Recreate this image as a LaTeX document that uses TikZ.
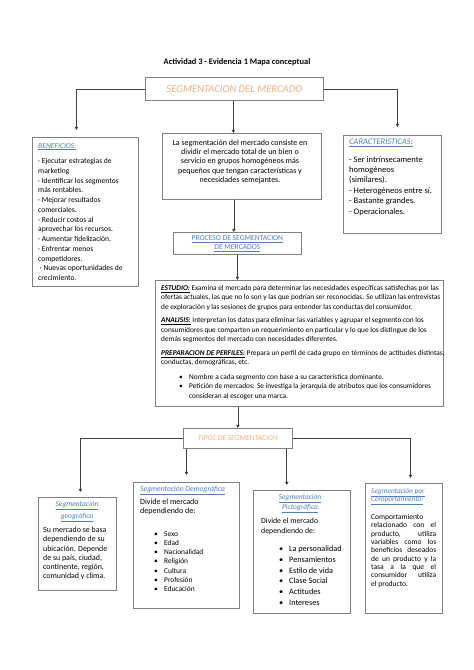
\documentclass[tikz,border=0pt]{standalone}
\usepackage{fontspec}
\setmainfont{Carlito}
\usetikzlibrary{arrows.meta,calc}
\definecolor{peach}{HTML}{F4B183}
\definecolor{hblue}{HTML}{4F81BD}
\definecolor{boxgray}{HTML}{7F7F7F}
\definecolor{linegray}{HTML}{404040}
\newcommand{\hd}[1]{\textcolor{hblue}{\itshape\underline{#1}}}
\newcommand{\bh}[1]{\textbf{\itshape\underline{#1}}}
\newcommand{\bul}{\makebox[10pt][l]{•}}
\newcommand{\jl}[1]{\makebox[65pt][s]{#1}}
\begin{document}
\begin{tikzpicture}[x=1pt,y=-1pt,
  box/.style={draw=boxgray, line width=0.8pt, fill=white, inner sep=0pt, anchor=north west},
  txt/.style={inner sep=0pt, anchor=north west, align=left},
  arr/.style={draw=linegray, line width=0.8pt, -{Triangle[length=3.2pt,width=3.4pt]}},
  ln/.style={draw=linegray, line width=0.8pt}]
\useasboundingbox (0,0) rectangle (474,670);
\fill[white] (0,0) rectangle (474,670);

% title
\node[font=\bfseries\fontsize{8.4}{10}\selectfont] (title) at (237,62) {Actividad 3 - Evidencia 1 Mapa conceptual};

% main
\node[box, minimum width=178pt, minimum height=23pt, font=\itshape\fontsize{10.6}{12}\selectfont, text=peach] (main) at (145,77) {SEGMENTACION DEL MERCADO};

% beneficios
\node[box, minimum width=106pt, minimum height=149pt] (ben) at (32,137) {};
\node[txt, font=\fontsize{7.6}{9.75}\selectfont] (bent) at (38,143) {\hd{BENEFICIOS:}\\[5.8pt]
· Ejecutar estrategias de\\ marketing\\ · Identificar los segmentos\\ más rentables.\\ · Mejorar resultados\\ comerciales.\\ · Reducir costos al\\ aprovechar los recursos.\\ · Aumentar fidelización.\\ · Enfrentar menos\\ competidores.\\ \ · Nuevas oportunidades de\\ crecimiento.};

% definicion
\node[box, minimum width=159pt, minimum height=66pt] (def) at (162,133) {};
\node[inner sep=0pt, anchor=north, align=center, font=\fontsize{8}{9.1}\selectfont] (deft) at (240,140) {La segmentación del mercado consiste en\\ dividir el mercado total de un bien o\\ servicio en grupos homogéneos más\\ pequeños que tengan características y\\ necesidades semejantes.};

% caracteristicas
\node[box, minimum width=98pt, minimum height=98pt] (car) at (343,135) {};
\node[txt, font=\fontsize{8.5}{10.4}\selectfont] (cart) at (349,139) {\hd{CARACTERISTICAS:}\\[7pt]
- Ser intrínsecamente\\ homogéneos\\ (similares).\\ - Heterogéneos entre sí.\\ - Bastante grandes.\\ - Operacionales.};

% proceso
\node[box, minimum width=128pt, minimum height=22pt, align=center, font=\fontsize{7.6}{9}\selectfont, text=hblue] (proc) at (173,232) {\underline{PROCESO DE SEGMENTACION}\\ \underline{DE MERCADOS}};

% big box
\node[box, minimum width=288pt, minimum height=126pt] (big) at (155,280) {};
\node[txt, font=\fontsize{7.33}{9.5}\selectfont] (bigt) at (161,285) {\bh{ESTUDIO:} Examina el mercado para determinar las necesidades específicas satisfechas por las\\
ofertas actuales, las que no lo son y las que podrían ser reconocidas. Se utilizan las entrevistas\\
de exploración y las sesiones de grupos para entender las conductas del consumidor.\\[4pt]
\bh{ANALISIS:} Interpretan los datos para eliminar las variables y agrupar el segmento con los\\
consumidores que comparten un requerimiento en particular y lo que los distingue de los\\
demás segmentos del mercado con necesidades diferentes.\\[4pt]
\bh{PREPARACION DE PERFILES:} Prepara un perfil de cada grupo en términos de actitudes distintas,\\
conductas, demográficas, etc.\\[5pt]
\hspace*{18pt}\bul Nombre a cada segmento con base a su característica dominante.\\
\hspace*{18pt}\bul Petición de mercados: Se investiga la jerarquía de atributos que los consumidores\\
\hspace*{28pt}consideran al escoger una marca.};

% tipos
\node[box, minimum width=109pt, minimum height=20pt, font=\itshape\fontsize{7.6}{9}\selectfont, text=peach] (tipos) at (183,428) {TIPOS DE SEGMENTACION};

% geografica
\node[box, minimum width=78pt, minimum height=93pt] (geo) at (38,497) {};
\node[inner sep=0pt, anchor=north, align=center, font=\fontsize{7.5}{11.7}\selectfont] (geoh) at (77,501) {\hd{Segmentación}\\ \hd{geográfica}};
\node[txt, font=\fontsize{7.9}{9.2}\selectfont] (geot) at (43,527) {Su mercado se basa\\ dependiendo de su\\ ubicación. Depende\\ de su país, ciudad,\\ continente, región,\\ comunidad y clima.};

% demografica
\node[box, minimum width=106pt, minimum height=126pt] (dem) at (133,482) {};
\node[txt, font=\fontsize{7.6}{9}\selectfont] (demh) at (140,486) {\hd{Segmentación Demográfica}};
\node[txt, font=\fontsize{8}{9.2}\selectfont] (demt) at (140,499) {Divide el mercado\\ dependiendo de:};
\node[txt, font=\fontsize{7.4}{9.3}\selectfont] (demb) at (154,531) {\bul Sexo\\ \bul Edad\\ \bul Nacionalidad\\ \bul Religión\\ \bul Cultura\\ \bul Profesión\\ \bul Educación};

% pictografica
\node[box, minimum width=97pt, minimum height=123pt] (pic) at (253,490) {};
\node[inner sep=0pt, anchor=north, align=center, font=\fontsize{7.4}{10}\selectfont] (pich) at (300,494) {\hd{Segmentación}\\ \hd{Pictográfica}};
\node[txt, font=\fontsize{7.8}{9.4}\selectfont] (pict) at (261,518) {Divide el mercado\\ dependiendo de:};
\node[txt, font=\fontsize{8.2}{10.65}\selectfont] (picb) at (279,546) {\bul La personalidad\\ \bul Pensamientos\\ \bul Estilo de vida\\ \bul Clase Social\\ \bul Actitudes\\ \bul Intereses};

% comportamiento
\node[box, minimum width=77pt, minimum height=130pt] (com) at (365,483) {};
\node[txt, font=\fontsize{7.3}{8.4}\selectfont] (comh) at (371,488) {\hd{Segmentación por}\\ \hd{Comportamiento:}};
\node[txt, font=\fontsize{7.5}{8.35}\selectfont] (comt) at (371,514) {Comportamiento\\ \jl{relacionado con el}\\ \jl{producto, utiliza}\\ \jl{variables como los}\\ \jl{beneficios deseados}\\ \jl{de un producto y la}\\ \jl{tasa a la que el}\\ \jl{consumidor utiliza}\\ el producto.};

% connectors
\draw[arr, shorten >=7pt] (main.west) -| ([xshift=-9pt]ben.north);
\draw[arr, shorten >=8pt] (main.east) -| ([xshift=5pt]car.north);
\draw[arr] ([xshift=-1pt]main.south) -- ([xshift=-1pt]main.south |- def.north);
\draw[arr] ([xshift=-8pt]def.south) -- ([xshift=-8pt]def.south |- proc.north);
\draw[arr] (proc.south) -- (proc.south |- big.north);
\draw[arr] (tipos.north |- big.south) -- (tipos.north);
\draw[arr, shorten >=5pt] (tipos.west) -| ([xshift=3pt]geo.north);
\draw[arr, shorten >=7pt] (tipos.south west -| dem.north) -- (dem.north);
\draw[arr, shorten >=5pt] ([xshift=-6pt]tipos.south east) -- ([xshift=-6pt]tipos.south east |- pic.north);
\draw[arr, shorten >=5pt] (tipos.east) -| ([xshift=6.5pt]com.north);
\end{tikzpicture}
\end{document}
